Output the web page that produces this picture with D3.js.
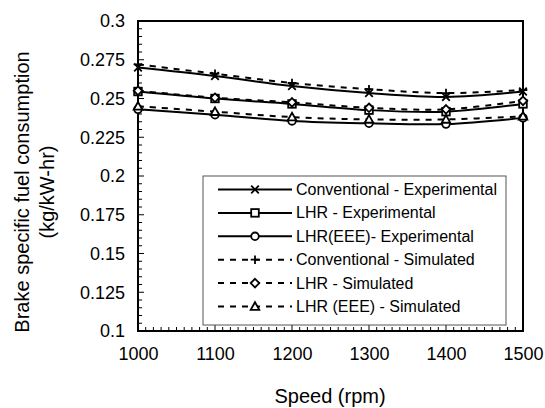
<!DOCTYPE html>
<html><head><meta charset="utf-8">
<script src="https://cdn.jsdelivr.net/npm/d3@7"></script>
<style>body{margin:0;background:#fff;} svg{display:block;font-family:"Liberation Sans",Arial,sans-serif;}</style>
</head><body><svg id="c" width="545" height="408"></svg>
<script>
const speeds = [1000, 1100, 1200, 1300, 1400, 1500];
const convExp = [0.270, 0.2645, 0.258, 0.2535, 0.251, 0.2545];
const lhrExp  = [0.2545, 0.250, 0.2465, 0.2425, 0.2415, 0.2465];
const eeeExp  = [0.243, 0.2395, 0.2355, 0.234, 0.2335, 0.2375];
const convSim = [0.272, 0.266, 0.260, 0.256, 0.2535, 0.2555];
const lhrSim  = [0.255, 0.2505, 0.2475, 0.244, 0.243, 0.2485];
const eeeSim  = [0.245, 0.2415, 0.238, 0.2365, 0.2365, 0.2385];
const yTicks = [0.1, 0.125, 0.15, 0.175, 0.2, 0.225, 0.25, 0.275, 0.3];
const yTickLabels = ["0.1","0.125","0.15","0.175","0.2","0.225","0.25","0.275","0.3"];
const xTicks = [1000, 1100, 1200, 1300, 1400, 1500];

const series = [
  {name:"Conventional - Experimental", values:convExp, marker:"x", dash:null},
  {name:"LHR - Experimental", values:lhrExp, marker:"square", dash:null},
  {name:"LHR(EEE)- Experimental", values:eeeExp, marker:"circle", dash:null},
  {name:"Conventional - Simulated", values:convSim, marker:"plus", dash:"6,6"},
  {name:"LHR - Simulated", values:lhrSim, marker:"diamond", dash:"6,6"},
  {name:"LHR (EEE) - Simulated", values:eeeSim, marker:"triangle", dash:"6,6"}
];

const svg = d3.select("#c");
const L = 138, R = 523, T = 21, B = 331;
const x = d3.scaleLinear().domain([1000, 1500]).range([L, R]);
const y = d3.scaleLinear().domain([0.1, 0.3]).range([B, T]);

// minor ticks
const yMinor = d3.range(0, 41).map(i => 0.1 + i * 0.005);
svg.append("g").selectAll("line").data(yMinor).join("line")
  .attr("x1", L).attr("x2", d => (Math.round((d-0.1)/0.005) % 5 === 0) ? L + 6 : L + 4)
  .attr("y1", d => y(d)).attr("y2", d => y(d))
  .attr("stroke", "#000").attr("stroke-width", 1);
const xMinor = d3.range(0, 51).map(i => 1000 + i * 10);
svg.append("g").selectAll("line").data(xMinor).join("line")
  .attr("x1", d => x(d)).attr("x2", d => x(d))
  .attr("y1", B).attr("y2", d => (d % 100 === 0) ? B - 6 : B - 4)
  .attr("stroke", "#000").attr("stroke-width", 1);

// axes labels via d3 axes
const yAxis = d3.axisLeft(y).tickValues(yTicks).tickFormat((d,i) => yTickLabels[i]).tickSize(0).tickPadding(13);
const gy = svg.append("g").attr("transform", `translate(${L},0)`).call(yAxis);
gy.select(".domain").remove();
gy.selectAll("text").attr("font-size", 18).attr("font-family", "Liberation Sans, Arial, sans-serif").attr("fill", "#000");

const xAxis = d3.axisBottom(x).tickValues(xTicks).tickFormat(d3.format("d")).tickSize(0).tickPadding(16);
const gx = svg.append("g").attr("transform", `translate(0,${B})`).call(xAxis);
gx.select(".domain").remove();
gx.selectAll("text").attr("font-size", 18).attr("font-family", "Liberation Sans, Arial, sans-serif").attr("fill", "#000");

// frame
svg.append("rect").attr("x", L).attr("y", T).attr("width", R - L).attr("height", B - T)
  .attr("fill", "none").attr("stroke", "#000").attr("stroke-width", 2);

// titles
svg.append("text").attr("x", 330).attr("y", 403).attr("text-anchor", "middle")
  .attr("font-size", 20).text("Speed (rpm)");
const yt = svg.append("text").attr("transform", "translate(29,192) rotate(-90)").attr("text-anchor", "middle").attr("font-size", 20);
yt.append("tspan").attr("x", 0).attr("dy", 0).text("Brake specific fuel consumption");
yt.append("tspan").attr("x", 0).attr("dy", 25).text("(kg/kW-hr)");

function drawMarker(g, type, cx, cy) {
  const s = 3.8;
  const st = {stroke:"#000", "stroke-width":1.8};
  let el;
  if (type === "x") {
    el = g.append("path").attr("d", `M${cx-s},${cy-s}L${cx+s},${cy+s}M${cx-s},${cy+s}L${cx+s},${cy-s}`).attr("fill","none");
  } else if (type === "plus") {
    el = g.append("path").attr("d", `M${cx-s-0.5},${cy}L${cx+s+0.5},${cy}M${cx},${cy-s-0.5}L${cx},${cy+s+0.5}`).attr("fill","none");
  } else if (type === "square") {
    el = g.append("rect").attr("x", cx-s).attr("y", cy-s).attr("width", 2*s).attr("height", 2*s).attr("fill","#fff");
  } else if (type === "circle") {
    el = g.append("circle").attr("cx", cx).attr("cy", cy).attr("r", s).attr("fill","#fff");
  } else if (type === "diamond") {
    el = g.append("path").attr("d", `M${cx},${cy-s-0.5}L${cx+s+0.5},${cy}L${cx},${cy+s+0.5}L${cx-s-0.5},${cy}Z`).attr("fill","#fff");
  } else if (type === "triangle") {
    el = g.append("path").attr("d", `M${cx},${cy-s-0.5}L${cx+s+0.5},${cy+s-0.5}L${cx-s-0.5},${cy+s-0.5}Z`).attr("fill","#fff");
  }
  for (const k in st) el.attr(k, st[k]);
}

const line = d3.line().x((d,i) => x(speeds[i])).y(d => y(d)).curve(d3.curveCatmullRom.alpha(0.5));
const gl = svg.append("g");
series.forEach(s => {
  gl.append("path").attr("d", line(s.values)).attr("fill", "none").attr("stroke", "#000")
    .attr("stroke-width", 2).attr("stroke-dasharray", s.dash);
});
series.forEach(s => {
  s.values.forEach((v, i) => drawMarker(gl, s.marker, x(speeds[i]), y(v)));
});

// legend
const LX = 203, LY = 176, LW = 303, LH = 149;
svg.append("rect").attr("x", LX).attr("y", LY).attr("width", LW).attr("height", LH)
  .attr("fill", "#fff").attr("stroke", "#555").attr("stroke-width", 1);
series.forEach((s, i) => {
  const ry = 189.5 + i * 23.4;
  const g = svg.append("g");
  g.append("line").attr("x1", 218).attr("x2", 292).attr("y1", ry).attr("y2", ry)
    .attr("stroke", "#000").attr("stroke-width", 2).attr("stroke-dasharray", s.dash);
  drawMarker(g, s.marker, 255, ry);
  g.append("text").attr("x", 296).attr("y", ry + 5.5).attr("font-size", 16).text(s.name);
});
</script></body></html>
